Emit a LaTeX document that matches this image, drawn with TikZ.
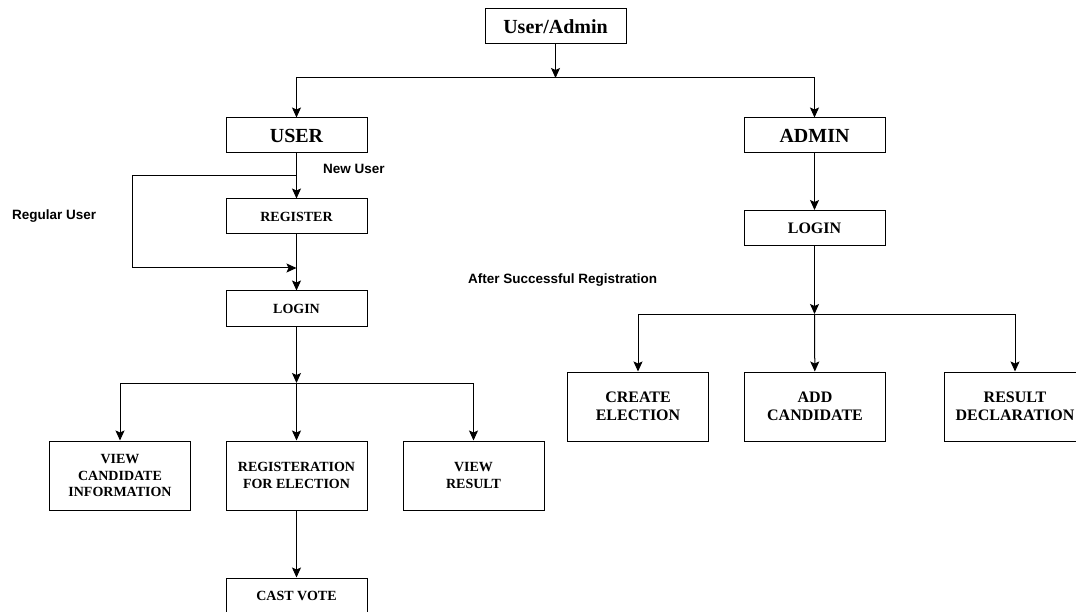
\documentclass[tikz,border=0pt]{standalone}
\usepackage{fontspec}
\setmainfont{Liberation Serif}
\setsansfont{Liberation Sans}
\usepackage{tikz}
\usetikzlibrary{arrows.meta,positioning,calc}
\tikzset{
evbox/.style={rectangle,draw,line width=1pt,align=center,inner sep=2pt,minimum width=141pt,minimum height=35pt,font=\fontsize{14}{16.5}\selectfont\bfseries},
evhead/.style={evbox,font=\fontsize{20}{24}\selectfont\bfseries},
evadmin/.style={evbox,font=\fontsize{16}{18.5}\selectfont\bfseries},
evtall/.style={minimum height=69pt},
evlabel/.style={font=\sffamily\bfseries\fontsize{13.5}{16}\selectfont,inner sep=0pt,anchor=west},
evarr/.style={-{Stealth[length=10pt,width=9pt,inset=2pt]},line width=1pt}
}
\begin{document}
\begin{tikzpicture}[
x=1pt,
y=-1pt
]
\useasboundingbox (0,0) rectangle (1076,612);
\node[evhead] (top) at (555.5,26.5) {User/Admin};
\node[evhead] (user) at (296.5,135.5) {USER};
\node[evhead] (admin) at (814.5,135.5) {ADMIN};
\node[evbox] (register) at (296.5,216.5) {REGISTER};
\node[evbox] (ulogin) at (296.5,308.5) {LOGIN};
\node[evbox,evtall] (viewcand) at (120,475.5) {VIEW\\CANDIDATE\\INFORMATION};
\node[evbox,evtall] (regelec) at (296.5,475.5) {REGISTERATION\\FOR ELECTION};
\node[evbox,evtall] (viewres) at (473.5,475.5) {VIEW\\RESULT};
\node[evbox] (castvote) at (296.5,595.5) {CAST VOTE};
\node[evadmin] (alogin) at (814.5,228) {LOGIN};
\node[evadmin,evtall] (create) at (638,406.5) {CREATE\\ELECTION};
\node[evadmin,evtall] (addcand) at (815,406.5) {ADD\\CANDIDATE};
\node[evadmin,evtall] (resdecl) at (1015,406.5) {RESULT\\DECLARATION};
% labels
\node[evlabel] (newuser) at (323,169) {New User};
\node[evlabel] (regular) at (12,216) {Regular User};
\node[evlabel] (aftersucc) at (468,280) {After Successful Registration};
% forks
\coordinate (topfork) at (555.5,78);
\coordinate (newfork) at (296.5,176);
\coordinate (regloop) at (132,268);
\coordinate (regjoin) at (296.5,268);
\coordinate (ufork) at (296.5,383);
\coordinate (afork) at (814.5,314);
\draw[evarr] (top)--(topfork);
\draw[evarr] (topfork) -| (user);
\draw[evarr] (topfork) -| (admin);
\draw[evarr] (user)--(register);
\draw[evarr] (newfork) -| (regloop) -- (regjoin);
\draw[evarr] (register)--(ulogin);
\draw[evarr] (ulogin)--(ufork);
\draw[evarr] (ufork) -| (viewcand);
\draw[evarr] (ufork)--(regelec);
\draw[evarr] (ufork) -| (viewres);
\draw[evarr] (regelec)--(castvote);
\draw[evarr] (admin)--(alogin);
\draw[evarr] (alogin)--(afork);
\draw[evarr] (afork) -| (create);
\draw[evarr] (afork)--(addcand);
\draw[evarr] (afork) -| (resdecl);
\end{tikzpicture}
\end{document}
